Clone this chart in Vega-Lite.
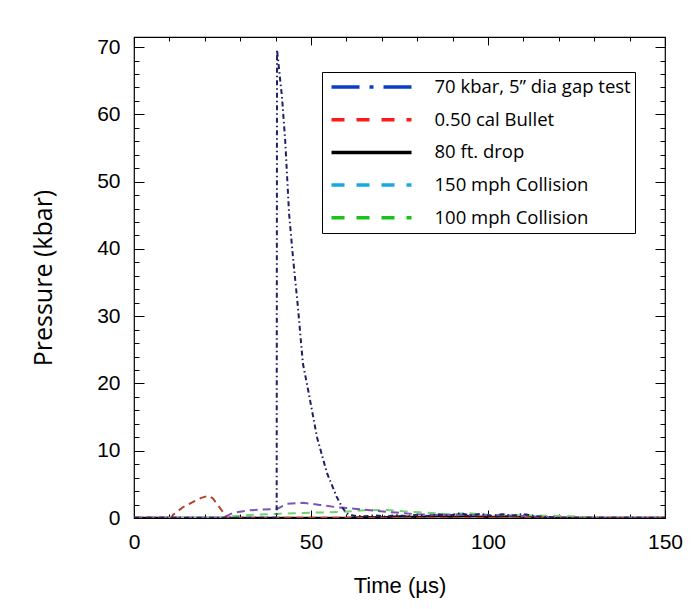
{
  "$schema": "https://vega.github.io/schema/vega-lite/v6.json",
  "width": 531,
  "height": 481,
  "autosize": "none",
  "padding": {"left": 134, "top": 37, "right": 26, "bottom": 91},
  "background": "white",
  "config": {
    "view": {"stroke": "black", "strokeWidth": 1.2},
    "axis": {"domain": false, "grid": false, "labelColor": "black", "tickColor": "black", "tickWidth": 1, "labelOverlap": false, "labelFlush": false, "titleColor": "black", "titleFontWeight": "normal"}
  },
  "datasets": {
    "curves": [
      {"series": "80 ft. drop", "t": 0, "p": 0.02},
      {"series": "80 ft. drop", "t": 30, "p": 0.02},
      {"series": "80 ft. drop", "t": 60, "p": 0.05},
      {"series": "80 ft. drop", "t": 65, "p": 0.15},
      {"series": "80 ft. drop", "t": 70, "p": 0.1},
      {"series": "80 ft. drop", "t": 75, "p": 0.25},
      {"series": "80 ft. drop", "t": 80, "p": 0.15},
      {"series": "80 ft. drop", "t": 85, "p": 0.3},
      {"series": "80 ft. drop", "t": 90, "p": 0.2},
      {"series": "80 ft. drop", "t": 95, "p": 0.3},
      {"series": "80 ft. drop", "t": 100, "p": 0.15},
      {"series": "80 ft. drop", "t": 105, "p": 0.25},
      {"series": "80 ft. drop", "t": 110, "p": 0.2},
      {"series": "80 ft. drop", "t": 115, "p": 0.1},
      {"series": "80 ft. drop", "t": 120, "p": 0.05},
      {"series": "80 ft. drop", "t": 130, "p": 0.02},
      {"series": "80 ft. drop", "t": 150, "p": 0.02},

      {"series": "100 mph Collision", "t": 0, "p": 0.02},
      {"series": "100 mph Collision", "t": 24, "p": 0.02},
      {"series": "100 mph Collision", "t": 26, "p": 0.2},
      {"series": "100 mph Collision", "t": 30, "p": 0.35},
      {"series": "100 mph Collision", "t": 35, "p": 0.5},
      {"series": "100 mph Collision", "t": 41.2, "p": 0.65},
      {"series": "100 mph Collision", "t": 45, "p": 0.7},
      {"series": "100 mph Collision", "t": 50, "p": 0.8},
      {"series": "100 mph Collision", "t": 55, "p": 0.85},
      {"series": "100 mph Collision", "t": 60.2, "p": 0.95},
      {"series": "100 mph Collision", "t": 65, "p": 1.15},
      {"series": "100 mph Collision", "t": 71.5, "p": 1.2},
      {"series": "100 mph Collision", "t": 76, "p": 1.0},
      {"series": "100 mph Collision", "t": 80.8, "p": 0.85},
      {"series": "100 mph Collision", "t": 85.6, "p": 0.7},
      {"series": "100 mph Collision", "t": 89.8, "p": 0.5},
      {"series": "100 mph Collision", "t": 94, "p": 0.75},
      {"series": "100 mph Collision", "t": 100.6, "p": 0.45},
      {"series": "100 mph Collision", "t": 105, "p": 0.5},
      {"series": "100 mph Collision", "t": 110, "p": 0.4},
      {"series": "100 mph Collision", "t": 116, "p": 0.35},
      {"series": "100 mph Collision", "t": 122, "p": 0.3},
      {"series": "100 mph Collision", "t": 127, "p": 0.15},
      {"series": "100 mph Collision", "t": 132, "p": 0.02},
      {"series": "100 mph Collision", "t": 150, "p": 0.02},

      {"series": "150 mph Collision", "t": 0, "p": 0.02},
      {"series": "150 mph Collision", "t": 25, "p": 0.02},
      {"series": "150 mph Collision", "t": 26.5, "p": 0.4},
      {"series": "150 mph Collision", "t": 28, "p": 0.75},
      {"series": "150 mph Collision", "t": 32.8, "p": 1.15},
      {"series": "150 mph Collision", "t": 36, "p": 1.25},
      {"series": "150 mph Collision", "t": 40.4, "p": 1.35},
      {"series": "150 mph Collision", "t": 43.2, "p": 2.1},
      {"series": "150 mph Collision", "t": 47.7, "p": 2.25},
      {"series": "150 mph Collision", "t": 52.5, "p": 1.95},
      {"series": "150 mph Collision", "t": 57.3, "p": 1.6},
      {"series": "150 mph Collision", "t": 63, "p": 1.35},
      {"series": "150 mph Collision", "t": 68.6, "p": 1.05},
      {"series": "150 mph Collision", "t": 74, "p": 0.8},
      {"series": "150 mph Collision", "t": 80, "p": 0.55},
      {"series": "150 mph Collision", "t": 86, "p": 0.45},
      {"series": "150 mph Collision", "t": 92, "p": 0.5},
      {"series": "150 mph Collision", "t": 98, "p": 0.4},
      {"series": "150 mph Collision", "t": 104, "p": 0.4},
      {"series": "150 mph Collision", "t": 110, "p": 0.3},
      {"series": "150 mph Collision", "t": 116, "p": 0.15},
      {"series": "150 mph Collision", "t": 122, "p": 0.05},
      {"series": "150 mph Collision", "t": 150, "p": 0.02},

      {"series": "0.50 cal Bullet", "t": 0, "p": 0.02},
      {"series": "0.50 cal Bullet", "t": 10.5, "p": 0.02},
      {"series": "0.50 cal Bullet", "t": 11, "p": 0.45},
      {"series": "0.50 cal Bullet", "t": 13.8, "p": 1.6},
      {"series": "0.50 cal Bullet", "t": 16.7, "p": 2.4},
      {"series": "0.50 cal Bullet", "t": 19, "p": 3.0},
      {"series": "0.50 cal Bullet", "t": 21, "p": 3.3},
      {"series": "0.50 cal Bullet", "t": 22.3, "p": 2.9},
      {"series": "0.50 cal Bullet", "t": 23.7, "p": 1.9},
      {"series": "0.50 cal Bullet", "t": 25.1, "p": 0.9},
      {"series": "0.50 cal Bullet", "t": 25.7, "p": 0.3},
      {"series": "0.50 cal Bullet", "t": 26.2, "p": 0.02},
      {"series": "0.50 cal Bullet", "t": 150, "p": 0.02},

      {"series": "70 kbar, 5\u201d dia gap test", "t": 0, "p": 0.05},
      {"series": "70 kbar, 5\u201d dia gap test", "t": 40.3, "p": 0.05},
      {"series": "70 kbar, 5\u201d dia gap test", "t": 40.4, "p": 69.6},
      {"series": "70 kbar, 5\u201d dia gap test", "t": 41.8, "p": 62.6},
      {"series": "70 kbar, 5\u201d dia gap test", "t": 42.7, "p": 56.2},
      {"series": "70 kbar, 5\u201d dia gap test", "t": 43.8, "p": 45.3},
      {"series": "70 kbar, 5\u201d dia gap test", "t": 44.9, "p": 38.8},
      {"series": "70 kbar, 5\u201d dia gap test", "t": 46.3, "p": 31.4},
      {"series": "70 kbar, 5\u201d dia gap test", "t": 47.7, "p": 23.0},
      {"series": "70 kbar, 5\u201d dia gap test", "t": 49.2, "p": 19.0},
      {"series": "70 kbar, 5\u201d dia gap test", "t": 51.7, "p": 12.0},
      {"series": "70 kbar, 5\u201d dia gap test", "t": 54.5, "p": 6.7},
      {"series": "70 kbar, 5\u201d dia gap test", "t": 57.3, "p": 3.1},
      {"series": "70 kbar, 5\u201d dia gap test", "t": 58.8, "p": 1.6},
      {"series": "70 kbar, 5\u201d dia gap test", "t": 60, "p": 0.7},
      {"series": "70 kbar, 5\u201d dia gap test", "t": 62, "p": 0.35},
      {"series": "70 kbar, 5\u201d dia gap test", "t": 65, "p": 0.25},
      {"series": "70 kbar, 5\u201d dia gap test", "t": 68, "p": 0.4},
      {"series": "70 kbar, 5\u201d dia gap test", "t": 71, "p": 0.2},
      {"series": "70 kbar, 5\u201d dia gap test", "t": 74, "p": 0.45},
      {"series": "70 kbar, 5\u201d dia gap test", "t": 77, "p": 0.25},
      {"series": "70 kbar, 5\u201d dia gap test", "t": 80, "p": 0.5},
      {"series": "70 kbar, 5\u201d dia gap test", "t": 83, "p": 0.3},
      {"series": "70 kbar, 5\u201d dia gap test", "t": 86, "p": 0.55},
      {"series": "70 kbar, 5\u201d dia gap test", "t": 89, "p": 0.35},
      {"series": "70 kbar, 5\u201d dia gap test", "t": 92, "p": 0.7},
      {"series": "70 kbar, 5\u201d dia gap test", "t": 95, "p": 0.4},
      {"series": "70 kbar, 5\u201d dia gap test", "t": 98, "p": 0.6},
      {"series": "70 kbar, 5\u201d dia gap test", "t": 101, "p": 0.3},
      {"series": "70 kbar, 5\u201d dia gap test", "t": 104, "p": 0.55},
      {"series": "70 kbar, 5\u201d dia gap test", "t": 107, "p": 0.35},
      {"series": "70 kbar, 5\u201d dia gap test", "t": 110, "p": 0.6},
      {"series": "70 kbar, 5\u201d dia gap test", "t": 113, "p": 0.3},
      {"series": "70 kbar, 5\u201d dia gap test", "t": 116, "p": 0.15},
      {"series": "70 kbar, 5\u201d dia gap test", "t": 120, "p": 0.05},
      {"series": "70 kbar, 5\u201d dia gap test", "t": 150, "p": 0.05}
    ]
  },
  "encoding": {
    "x": {"field": "t", "type": "quantitative", "scale": {"domain": [0, 150], "nice": false, "zero": false}, "axis": null},
    "y": {"field": "p", "type": "quantitative", "scale": {"domain": [0, 71.5], "nice": false}, "axis": null}
  },
  "layer": [
    {
      "data": {"name": "curves"},
      "transform": [{"filter": "datum.series === '80 ft. drop'"}],
      "mark": {"type": "line", "strokeWidth": 2, "clip": true, "color": "#000000"},
      "encoding": {
        "x": {
          "field": "t", "type": "quantitative",
          "axis": {
            "orient": "bottom",
            "values": [0, 10, 20, 30, 40, 50, 60, 70, 80, 90, 100, 110, 120, 130, 140, 150],
            "labelExpr": "datum.value % 50 === 0 ? datum.label : ''",
            "tickSize": {"expr": "datum.value % 50 === 0 ? -8 : -4"},
            "labelPadding": 21,
            "labelFont": "Liberation Sans", "labelFontSize": 21,
            "title": "Time (\u00b5s)", "titleFont": "Liberation Sans", "titleFontSize": 22, "titlePadding": 19
          }
        },
        "y": {
          "field": "p", "type": "quantitative",
          "axis": {
            "orient": "left",
            "values": [0, 2, 4, 6, 8, 10, 12, 14, 16, 18, 20, 22, 24, 26, 28, 30, 32, 34, 36, 38, 40, 42, 44, 46, 48, 50, 52, 54, 56, 58, 60, 62, 64, 66, 68, 70],
            "labelExpr": "datum.value % 10 === 0 ? datum.label : ''",
            "tickSize": {"expr": "datum.value % 10 === 0 ? -10 : -5"},
            "labelPadding": 24,
            "labelFont": "Liberation Sans", "labelFontSize": 21,
            "title": "Pressure (kbar)", "titleFont": "Open Sans", "titleFontSize": 25, "titlePadding": 40
          }
        }
      }
    },
    {
      "data": {"name": "curves"},
      "transform": [{"filter": "datum.series === '100 mph Collision'"}],
      "mark": {"type": "line", "strokeWidth": 2, "clip": true, "color": "#6fd46f", "strokeDash": [8, 6]}
    },
    {
      "data": {"name": "curves"},
      "transform": [{"filter": "datum.series === '150 mph Collision'"}],
      "mark": {"type": "line", "strokeWidth": 2, "clip": true, "color": "#7b55b0", "strokeDash": [8, 5]}
    },
    {
      "data": {"name": "curves"},
      "transform": [{"filter": "datum.series === '0.50 cal Bullet'"}],
      "mark": {"type": "line", "strokeWidth": 2, "clip": true, "color": "#b5412c", "strokeDash": [7, 5]}
    },
    {
      "data": {"name": "curves"},
      "transform": [{"filter": "datum.series === '70 kbar, 5\u201d dia gap test'"}],
      "mark": {"type": "line", "strokeWidth": 2, "clip": true, "color": "#1f1f66", "strokeDash": [5, 3, 1.5, 3]}
    },
    {
      "data": {"name": "curves"},
      "transform": [{"filter": "datum.t < 0"}],
      "mark": {"type": "line", "strokeWidth": 3.5},
      "encoding": {
        "x": {
          "field": "t", "type": "quantitative",
          "axis": {
            "orient": "top",
            "values": [0, 10, 20, 30, 40, 50, 60, 70, 80, 90, 100, 110, 120, 130, 140, 150],
            "labels": false,
            "tickSize": {"expr": "datum.value % 50 === 0 ? -8 : -4"},
            "title": null
          }
        },
        "y": {
          "field": "p", "type": "quantitative",
          "axis": {
            "orient": "right",
            "values": [0, 2, 4, 6, 8, 10, 12, 14, 16, 18, 20, 22, 24, 26, 28, 30, 32, 34, 36, 38, 40, 42, 44, 46, 48, 50, 52, 54, 56, 58, 60, 62, 64, 66, 68, 70],
            "labels": false,
            "tickSize": {"expr": "datum.value % 10 === 0 ? -10 : -5"},
            "title": null
          }
        },
        "stroke": {
          "field": "series", "type": "nominal",
          "scale": {
            "domain": ["70 kbar, 5\u201d dia gap test", "0.50 cal Bullet", "80 ft. drop", "150 mph Collision", "100 mph Collision"],
            "range": ["#0a3cc8", "#ff1a1a", "#000000", "#1aa8e0", "#19c219"]
          },
          "legend": {
            "title": null, "orient": "none", "legendX": 188, "legendY": 35,
            "labelFont": "Open Sans", "labelFontSize": 18.5, "labelColor": "black", "labelLimit": 400,
            "symbolSize": 6400, "symbolStrokeWidth": 3.5, "symbolOpacity": 1, "symbolOffset": 3.5,
            "clipHeight": 22, "rowPadding": 10.7, "padding": 4, "labelOffset": 21,
            "strokeColor": "black", "fillColor": "white"
          }
        },
        "strokeDash": {
          "field": "series", "type": "nominal",
          "scale": {
            "domain": ["70 kbar, 5\u201d dia gap test", "0.50 cal Bullet", "80 ft. drop", "150 mph Collision", "100 mph Collision"],
            "range": [[28, 10, 4, 10], [13, 12], [1, 0], [13, 12], [13, 12]]
          },
          "legend": {
            "title": null, "orient": "none", "legendX": 188, "legendY": 35,
            "labelFont": "Open Sans", "labelFontSize": 18.5, "labelColor": "black", "labelLimit": 400,
            "symbolSize": 6400, "symbolStrokeWidth": 3.5, "symbolOpacity": 1, "symbolOffset": 3.5,
            "clipHeight": 22, "rowPadding": 10.7, "padding": 4, "labelOffset": 21,
            "strokeColor": "black", "fillColor": "white"
          }
        }
      }
    }
  ],
  "resolve": {
    "axis": {"x": "independent", "y": "independent"}
  }
}
